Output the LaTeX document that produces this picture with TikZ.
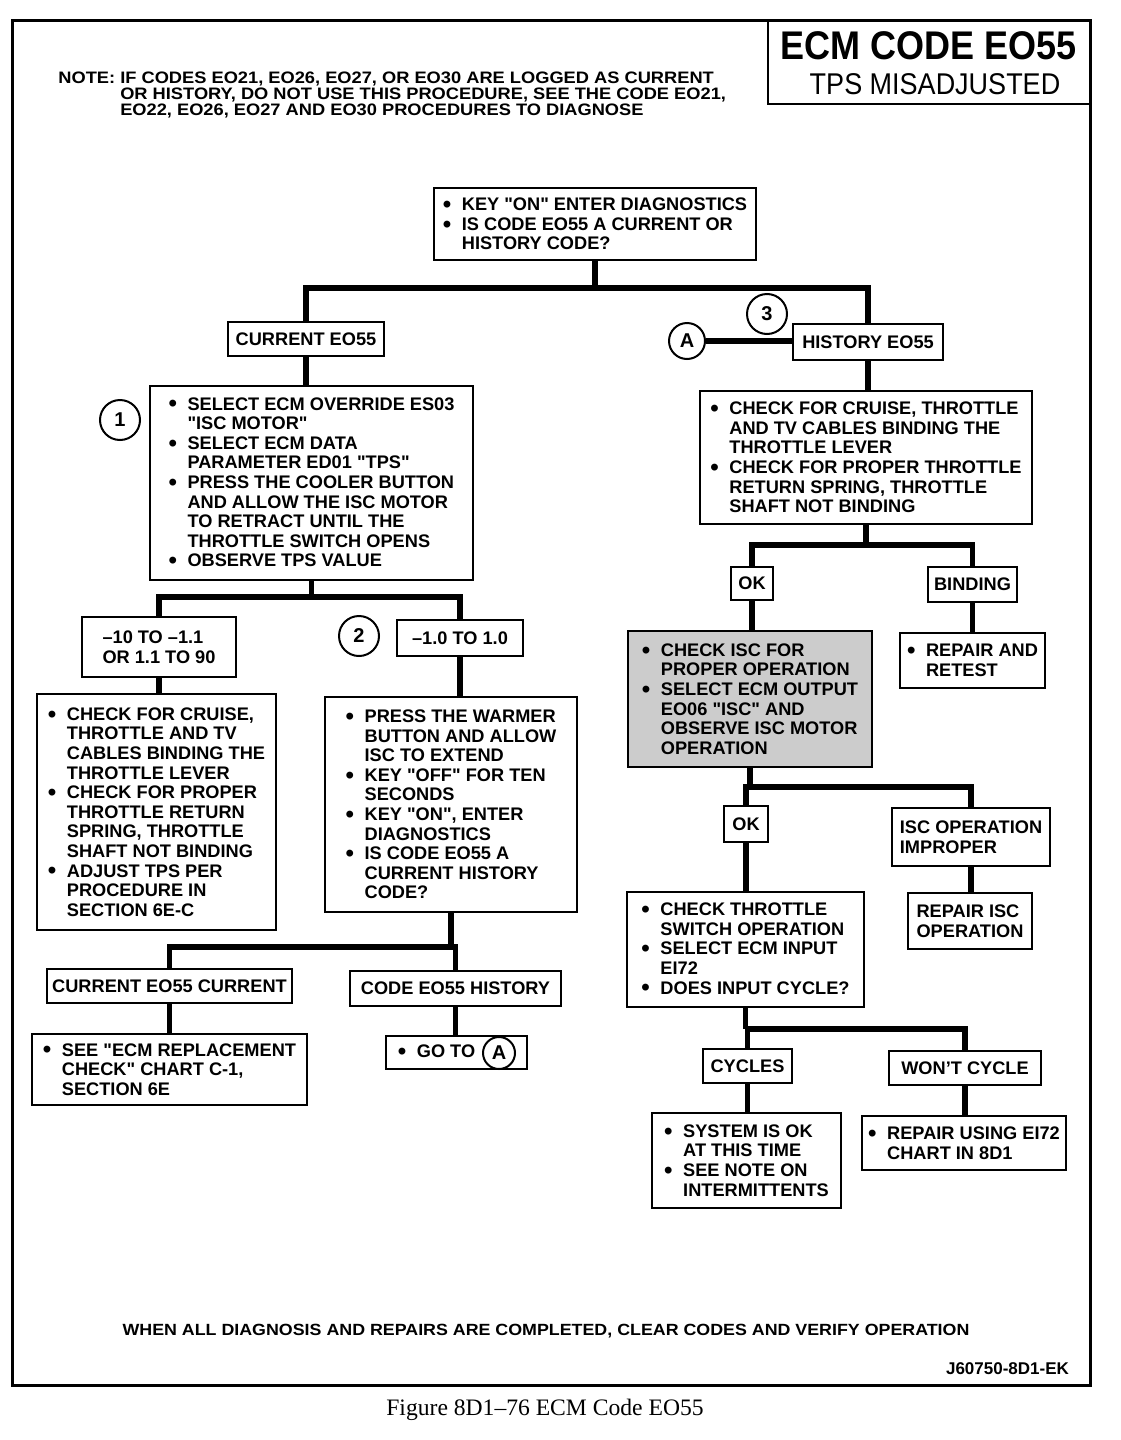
\documentclass[tikz,border=0pt]{standalone}
\usepackage{fontspec}
\setmainfont{Liberation Sans}[Ligatures=TeXOff]
\newfontfamily\notefont[FakeStretch=1.1]{Liberation Sans}
\newfontfamily\titlefont[FakeStretch=0.9]{Liberation Sans}
\newfontfamily\capfont{Liberation Serif}
\usetikzlibrary{calc}
\newcommand{\bul}{\makebox[9.5pt][l]{\raisebox{-0.9pt}{\fontsize{12}{9}\selectfont\textbullet}}}
\newcommand{\ind}{\hspace*{9.5pt}}
\newcommand{\ecmbox}[5] {\node at (#2) (#1) [box, minimum width=#3*0.5pt, minimum height=#4*0.5pt] {#5};}
\newcommand{\ecmring}[4] {\node at (#2) (#1) [numring, minimum size=#3*0.5pt] {#4};}
\newcommand{\ecmstem}[2] {\draw [stem] (#1.south) -- (#1.south |- #2.north);}
\newcommand{\ecmsplit}[4] {\draw [stem] (#1.south) -- (#1.south |- #4); \draw [stem] (#2.north) |- (#4 -| #1.south) -| (#3.north);}

\begin{document}
\begin{tikzpicture}[x=0.5pt, y=-0.5pt,
  box/.style={draw, line width=1pt, inner sep=0pt, align=left, font=\fontsize{9.1}{9.8}\selectfont\bfseries},
  greybox/.style={box, fill=black!20},
  numring/.style={circle, draw, line width=1pt, inner sep=0pt, font=\fontsize{10}{10}\selectfont\bfseries},
  stem/.style={line width=2.6pt}]
\useasboundingbox (0,0) rectangle (1120,1440);

% frame and title
\draw [line width=1.5pt] (12,20) rectangle (1090,1385);
\node at (929,62) (titlebox) [draw, line width=1pt, minimum width=161pt, minimum height=41.5pt] {};
\node at (929,46) (title) {\titlefont\bfseries\fontsize{20}{20}\selectfont ECM CODE EO55};
\node at (935,84) (subtitle) {\titlefont\fontsize{15}{15}\selectfont TPS MISADJUSTED};
\node at (58,96) (note) [anchor=west, inner sep=0pt] {\notefont\bfseries\fontsize{8.3}{7.6}\selectfont
  \begin{tabular}{@{}l@{ }l@{}}NOTE: & IF CODES EO21, EO26, EO27, OR EO30 ARE LOGGED AS CURRENT\\
  & OR HISTORY, DO NOT USE THIS PROCEDURE, SEE THE CODE EO21,\\
  & EO22, EO26, EO27 AND EO30 PROCEDURES TO DIAGNOSE\end{tabular}};

% top
\ecmbox {b0}{595,224}{322}{72}{\bul KEY "ON" ENTER DIAGNOSTICS\\ \bul IS CODE EO55 A CURRENT OR\\ \ind HISTORY CODE?};
\ecmbox {cur}{306,339}{156}{34}{CURRENT EO55};
\ecmbox {hist}{868,342}{150}{36}{HISTORY EO55};
\ecmring {t3}{767,314}{40}{3};
\ecmring {tA}{687,341}{36}{A};

% current branch
\ecmring {t1}{120,420}{40}{1};
\ecmbox {s1}{311.5,483}{323}{194}{\bul SELECT ECM OVERRIDE ES03\\ \ind "ISC MOTOR"\\ \bul SELECT ECM DATA\\ \ind PARAMETER ED01 "TPS"\\ \bul PRESS THE COOLER BUTTON\\ \ind AND ALLOW THE ISC MOTOR\\ \ind TO RETRACT UNTIL THE\\ \ind THROTTLE SWITCH OPENS\\ \bul OBSERVE TPS VALUE};
\ecmbox {r1}{159,647}{154}{60}{–10 TO –1.1\\OR 1.1 TO 90};
\ecmring {t2}{359,636}{40}{2};
\ecmbox {r2}{460,638}{126}{36}{–1.0 TO 1.0};
\ecmbox {c1}{156.5,812}{239}{236}{\bul CHECK FOR CRUISE,\\ \ind THROTTLE AND TV\\ \ind CABLES BINDING THE\\ \ind THROTTLE LEVER\\ \bul CHECK FOR PROPER\\ \ind THROTTLE RETURN\\ \ind SPRING, THROTTLE\\ \ind SHAFT NOT BINDING\\ \bul ADJUST TPS PER\\ \ind PROCEDURE IN\\ \ind SECTION 6E-C};
\ecmbox {w1}{451,804.5}{252}{215}{\bul PRESS THE WARMER\\ \ind BUTTON AND ALLOW\\ \ind ISC TO EXTEND\\ \bul KEY "OFF" FOR TEN\\ \ind SECONDS\\ \bul KEY "ON", ENTER\\ \ind DIAGNOSTICS\\ \bul IS CODE EO55 A\\ \ind CURRENT HISTORY\\ \ind CODE?};
\ecmbox {cc}{169.5,986}{245}{34}{CURRENT EO55 CURRENT};
\ecmbox {ch}{455.5,988.5}{211}{35}{CODE EO55 HISTORY};
\ecmbox {see}{169.5,1069.5}{275}{71}{\bul SEE "ECM REPLACEMENT\\ \ind CHECK" CHART C-1,\\ \ind SECTION 6E};
\ecmbox {goto}{456.5,1052.5}{141}{33}{\bul GO TO\hspace{20pt}};
\ecmring {gA}{499,1053}{32}{A};

% history branch
\ecmbox {c2}{866,457.5}{332}{133}{\bul CHECK FOR CRUISE, THROTTLE\\ \ind AND TV CABLES BINDING THE\\ \ind THROTTLE LEVER\\ \bul CHECK FOR PROPER THROTTLE\\ \ind RETURN SPRING, THROTTLE\\ \ind SHAFT NOT BINDING};
\ecmbox {ok1}{752,583.5}{42}{33}{OK};
\ecmbox {bind}{972.5,584.5}{89}{35}{BINDING};
\ecmbox {rr}{972.5,660.5}{145}{55}{\bul REPAIR AND\\ \ind RETEST};
\node at (750,699) (gr) [greybox, minimum width=122pt, minimum height=68pt] {\bul CHECK ISC FOR\\ \ind PROPER OPERATION\\ \bul SELECT ECM OUTPUT\\ \ind EO06 "ISC" AND\\ \ind OBSERVE ISC MOTOR\\ \ind OPERATION};
\ecmbox {ok2}{746,824}{44}{36}{OK};
\ecmbox {imp}{971,837}{158}{58}{ISC OPERATION\\IMPROPER};
\ecmbox {ri}{970,921}{124}{56}{REPAIR ISC\\OPERATION};
\ecmbox {ct}{745.5,949.5}{237}{115}{\bul CHECK THROTTLE\\ \ind SWITCH OPERATION\\ \bul SELECT ECM INPUT\\ \ind EI72\\ \bul DOES INPUT CYCLE?};
\ecmbox {cy}{747.5,1066}{89}{34}{CYCLES};
\ecmbox {wc}{965,1068}{152}{34}{WON’T CYCLE};
\ecmbox {sok}{746.5,1160.5}{189}{95}{\bul SYSTEM IS OK\\ \ind AT THIS TIME\\ \bul SEE NOTE ON\\ \ind INTERMITTENTS};
\ecmbox {ru}{964,1143}{204}{54}{\bul REPAIR USING EI72\\ \ind CHART IN 8D1};

% junctions
\coordinate (j0) at (0,288);
\coordinate (j1) at (0,597);
\coordinate (j2) at (0,947);
\coordinate (j3) at (0,545);
\coordinate (j4) at (0,787);
\coordinate (j5) at (0,1029);

% connectors
\ecmsplit{b0}{cur}{hist}{j0};
\ecmstem{cur}{s1};
\ecmsplit{s1}{r1}{r2}{j1};
\ecmstem{r1}{c1};
\ecmstem{r2}{w1};
\ecmsplit{w1}{cc}{ch}{j2};
\ecmstem{cc}{see};
\ecmstem{ch}{goto};
\draw [stem] (tA) -- (tA -| hist.west);
\ecmstem{hist}{c2};
\ecmsplit{c2}{ok1}{bind}{j3};
\ecmstem{bind}{rr};
\ecmstem{ok1}{gr};
\ecmsplit{gr}{ok2}{imp}{j4};
\ecmstem{imp}{ri};
\ecmstem{ok2}{ct};
\ecmsplit{ct}{cy}{wc}{j5};
\ecmstem{cy}{sok};
\ecmstem{wc}{ru};

% footer
\node at (546,1331) (done) {\notefont\bfseries\fontsize{8.1}{8.1}\selectfont WHEN ALL DIAGNOSIS AND REPAIRS ARE COMPLETED, CLEAR CODES AND VERIFY OPERATION};
\node at (1076,1369) (ref) [anchor=east] {\fontsize{8.5}{8.5}\selectfont\bfseries J60750-8D1-EK};
\node at (545,1410) (caption) {\capfont\fontsize{11.8}{11.8}\selectfont Figure 8D1–76 ECM Code EO55};

\end{tikzpicture}
\end{document}
